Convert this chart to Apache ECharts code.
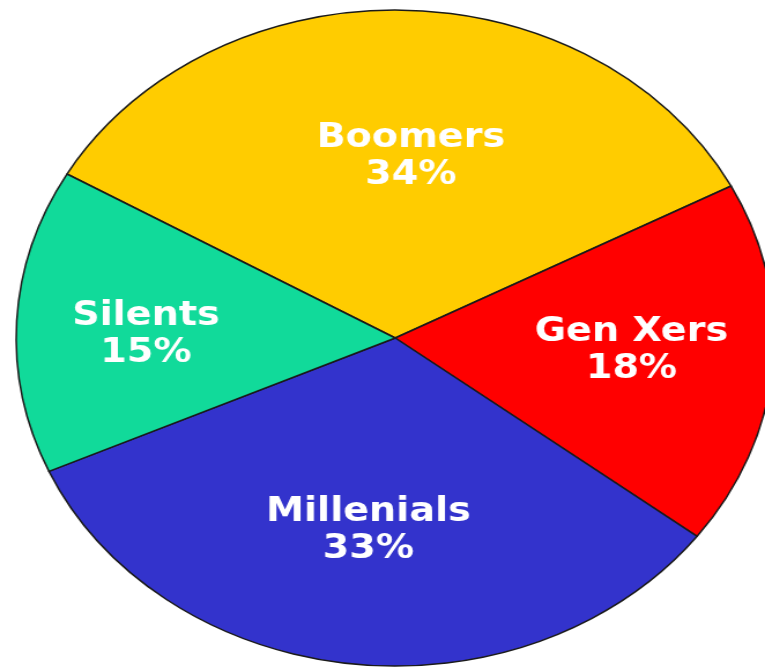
<!DOCTYPE html>
<html>
<head>
<meta charset="utf-8">
<script src="https://cdn.jsdelivr.net/npm/echarts@6/dist/echarts.min.js"></script>
<style>
  html, body { margin: 0; padding: 0; background: #ffffff; }
  #wrap { width: 765px; height: 668px; overflow: hidden; position: relative; }
  #main { width: 662px; height: 668px; transform: scaleX(1.1556); transform-origin: 0 0; }
</style>
</head>
<body>
<div id="wrap"><div id="main"></div></div>
<script>
const categories = ['Boomers', 'Gen Xers', 'Millenials', 'Silents'];
const shares = [34, 18, 33, 15];
const colors = ['#FFCC00', '#FF0000', '#3333CC', '#11DA9A'];
const labelOffsets = [[10, -14], [38, -1], [-4, 27], [-49, 6]];

const chart = echarts.init(document.getElementById('main'), null, { renderer: 'canvas' });
const data = categories.map((name, i) => ({
  name: name,
  value: shares[i],
  itemStyle: { color: colors[i] },
  label: { offset: labelOffsets[i] }
}));

chart.setOption({
  animation: false,
  backgroundColor: '#ffffff',
  series: [{
    type: 'pie',
    center: [342, 338],
    radius: [0, 328],
    startAngle: 150,
    clockwise: true,
    avoidLabelOverlap: false,
    itemStyle: { borderColor: '#1a1a1a', borderWidth: 1.5 },
    label: {
      show: true,
      position: 'inside',
      formatter: '{b}\n{c}%',
      color: '#ffffff',
      fontFamily: 'DejaVu Sans',
      fontWeight: 'bold',
      fontSize: 33,
      lineHeight: 37,
      align: 'center'
    },
    labelLine: { show: false },
    emphasis: { disabled: true },
    data: data
  }]
});
</script>
</body>
</html>
